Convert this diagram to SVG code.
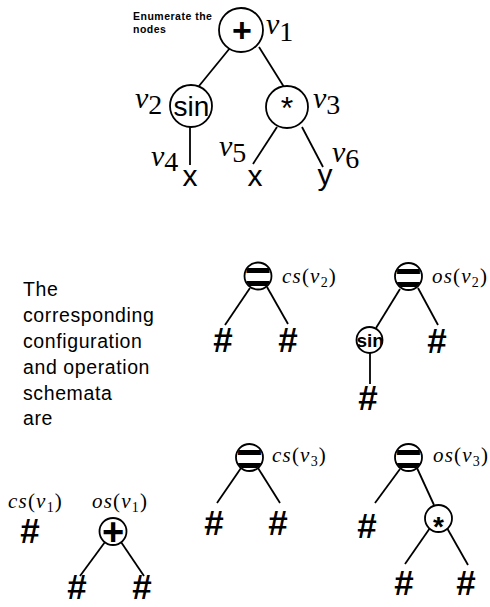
<svg xmlns="http://www.w3.org/2000/svg" width="490" height="607" viewBox="0 0 490 607">
  <style>
    .ln { stroke: #000; stroke-width: 1.8; fill: none; }
    .nd { fill: #fff; stroke: #000; stroke-width: 1.8; }
    .sans { font-family: "Liberation Sans", Arial, sans-serif; fill: #000; }
    .hash { font-family: "Liberation Sans", Arial, sans-serif; font-weight: bold; font-size: 35px; text-anchor: middle; fill: #000; }
    .math { font-family: "Liberation Serif", "Times New Roman", serif; fill: #000; }
    .it { font-style: italic; }
    .big { font-size: 30px; }
    .lab { font-size: 21px; letter-spacing: 1.2px; }
    .body { font-size: 19.5px; letter-spacing: 0.6px; }
    .sym { font-family: "Liberation Sans", Arial, sans-serif; font-weight: bold; text-anchor: middle; fill: #000; }
  </style>
  <defs>
    <clipPath id="small"><circle cx="0" cy="0" r="13"/></clipPath>
  </defs>

  <!-- caption -->
  <g id="caption">
    <text class="sans" x="133" y="20" font-size="10.5" font-weight="bold" letter-spacing="0.5">Enumerate the</text>
    <text class="sans" x="133" y="33" font-size="10.5" font-weight="bold" letter-spacing="0.5">nodes</text>
  </g>

  <!-- expression tree: connectors -->
  <g id="tree-edges" class="ln">
    <line x1="230" y1="48" x2="199" y2="86"/>
    <line x1="259" y1="47" x2="284" y2="87"/>
    <line x1="190" y1="127" x2="190" y2="165"/>
    <line x1="277" y1="127" x2="253" y2="164"/>
    <line x1="302" y1="127" x2="323" y2="167"/>
  </g>

  <!-- expression tree: nodes -->
  <g id="v1">
    <circle class="nd" cx="241" cy="30" r="22"/>
    <text class="sym" x="242" y="41.5" font-size="34">+</text>
    <text class="math" x="266" y="34"><tspan class="it" font-size="30">v</tspan><tspan font-size="28" dy="7">1</tspan></text>
  </g>
  <g id="v2">
    <circle class="nd" cx="191" cy="106" r="21"/>
    <text class="sans" x="191.5" y="116" font-size="28" text-anchor="middle">sin</text>
    <text class="math" x="135" y="108"><tspan class="it" font-size="30">v</tspan><tspan font-size="28" dy="6">2</tspan></text>
  </g>
  <g id="v3">
    <circle class="nd" cx="287" cy="107" r="21"/>
    <text class="sans" x="287" y="119" font-size="32" text-anchor="middle">*</text>
    <text class="math" x="313" y="108"><tspan class="it" font-size="30">v</tspan><tspan font-size="28" dy="6">3</tspan></text>
  </g>
  <g id="v4">
    <text class="sans big" x="190" y="186" text-anchor="middle">x</text>
    <text class="math" x="151" y="166"><tspan class="it" font-size="30">v</tspan><tspan font-size="28" dy="5">4</tspan></text>
  </g>
  <g id="v5">
    <text class="sans big" x="255" y="186" text-anchor="middle">x</text>
    <text class="math" x="219" y="156"><tspan class="it" font-size="30">v</tspan><tspan font-size="28" dy="6">5</tspan></text>
  </g>
  <g id="v6">
    <text class="sans big" x="325" y="185" text-anchor="middle">y</text>
    <text class="math" x="332" y="162"><tspan class="it" font-size="30">v</tspan><tspan font-size="28" dy="6">6</tspan></text>
  </g>

  <!-- explanatory paragraph -->
  <g id="paragraph" class="sans body">
    <text x="23" y="296">The</text>
    <text x="23" y="322">corresponding</text>
    <text x="23" y="348">configuration</text>
    <text x="23" y="374">and operation</text>
    <text x="23" y="400">schemata</text>
    <text x="23" y="425">are</text>
  </g>

  <!-- schema connectors -->
  <g id="schema-edges" class="ln">
    <!-- cs(v2) -->
    <line x1="250" y1="288" x2="225" y2="325"/>
    <line x1="267" y1="287" x2="288" y2="324"/>
    <!-- os(v2) -->
    <line x1="400" y1="289" x2="376" y2="328"/>
    <line x1="418" y1="288" x2="438" y2="325"/>
    <line x1="370" y1="353" x2="370" y2="384"/>
    <!-- cs(v3) -->
    <line x1="241" y1="468" x2="217" y2="503"/>
    <line x1="258" y1="468" x2="280" y2="503"/>
    <!-- os(v3) -->
    <line x1="400" y1="469" x2="375" y2="503"/>
    <line x1="417" y1="468" x2="434" y2="505"/>
    <line x1="430" y1="528" x2="405" y2="564"/>
    <line x1="447" y1="528" x2="468" y2="565"/>
    <!-- os(v1) -->
    <line x1="105" y1="542" x2="80" y2="576"/>
    <line x1="121" y1="542" x2="144" y2="576"/>
  </g>

  <!-- cs(v2) -->
  <g id="cs-v2">
    <g transform="translate(258 276)">
      <circle class="nd" r="13.5"/>
      <text class="sym" x="0" y="17" font-size="46" clip-path="url(#small)">=</text>
    </g>
    <text class="math lab" x="282" y="283"><tspan class="it">cs</tspan>(<tspan class="it">v</tspan><tspan font-size="14" dy="4">2</tspan><tspan dy="-4">)</tspan></text>
    <text class="hash" x="223" y="352">#</text>
    <text class="hash" x="288" y="352">#</text>
  </g>

  <!-- os(v2) -->
  <g id="os-v2">
    <g transform="translate(408.5 276.5)">
      <circle class="nd" r="13.5"/>
      <text class="sym" x="0" y="17" font-size="46" clip-path="url(#small)">=</text>
    </g>
    <g transform="translate(369.5 340)">
      <circle class="nd" r="13"/>
      <text class="sans" x="-13" y="6.5" font-size="19" font-weight="bold" clip-path="url(#small)">sin</text>
    </g>
    <text class="math lab" x="432" y="283"><tspan class="it">os</tspan>(<tspan class="it">v</tspan><tspan font-size="14" dy="4">2</tspan><tspan dy="-4">)</tspan></text>
    <text class="hash" x="368" y="410">#</text>
    <text class="hash" x="437" y="353">#</text>
  </g>

  <!-- cs(v3) -->
  <g id="cs-v3">
    <g transform="translate(249.5 457.5)">
      <circle class="nd" r="13.5"/>
      <text class="sym" x="0" y="17" font-size="46" clip-path="url(#small)">=</text>
    </g>
    <text class="math lab" x="272" y="462"><tspan class="it">cs</tspan>(<tspan class="it">v</tspan><tspan font-size="14" dy="4">3</tspan><tspan dy="-4">)</tspan></text>
    <text class="hash" x="214" y="535">#</text>
    <text class="hash" x="278" y="535">#</text>
  </g>

  <!-- os(v3) -->
  <g id="os-v3">
    <g transform="translate(408.5 457.5)">
      <circle class="nd" r="13.5"/>
      <text class="sym" x="0" y="17" font-size="46" clip-path="url(#small)">=</text>
    </g>
    <g transform="translate(438.5 518.5)">
      <circle class="nd" r="13.5"/>
      <text class="sym" x="0" y="17" font-size="28">*</text>
    </g>
    <text class="math lab" x="433" y="462"><tspan class="it">os</tspan>(<tspan class="it">v</tspan><tspan font-size="14" dy="4">3</tspan><tspan dy="-4">)</tspan></text>
    <text class="hash" x="367" y="538">#</text>
    <text class="hash" x="404" y="595">#</text>
    <text class="hash" x="466" y="595">#</text>
  </g>

  <!-- cs(v1) -->
  <g id="cs-v1">
    <text class="math lab" x="8" y="508"><tspan class="it">cs</tspan>(<tspan class="it">v</tspan><tspan font-size="14" dy="4">1</tspan><tspan dy="-4">)</tspan></text>
    <text class="hash" x="30" y="543">#</text>
  </g>

  <!-- os(v1) -->
  <g id="os-v1">
    <g transform="translate(113 531.5)">
      <circle class="nd" r="13.5"/>
      <text class="sym" x="0" y="13.5" font-size="38" clip-path="url(#small)">+</text>
    </g>
    <text class="math lab" x="92" y="508"><tspan class="it">os</tspan>(<tspan class="it">v</tspan><tspan font-size="14" dy="4">1</tspan><tspan dy="-4">)</tspan></text>
    <text class="hash" x="77" y="599">#</text>
    <text class="hash" x="142" y="599">#</text>
  </g>
</svg>
